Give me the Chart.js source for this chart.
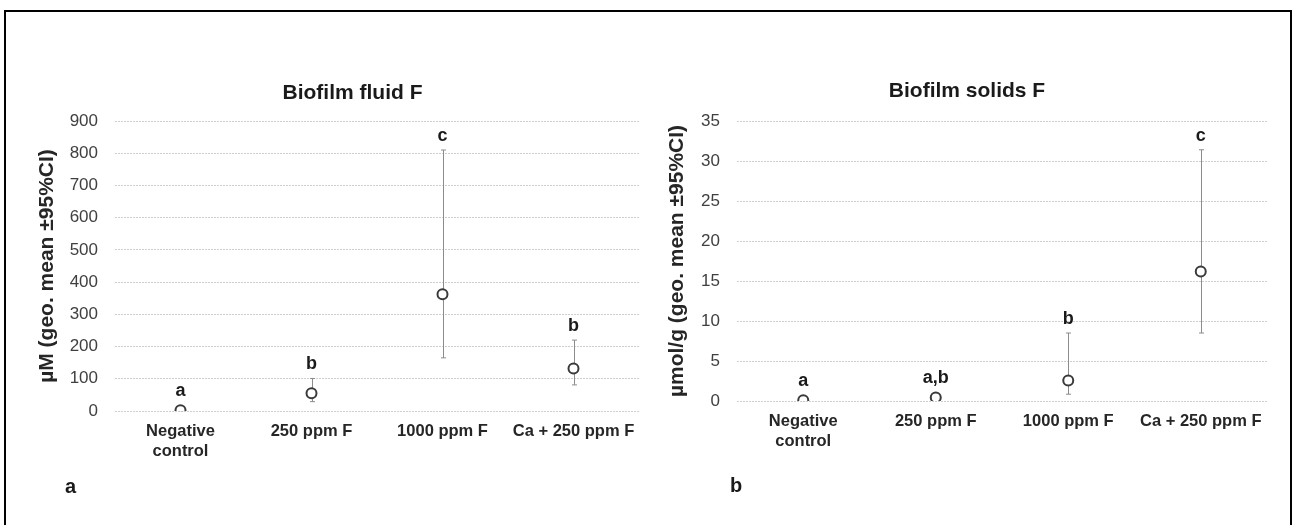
<!DOCTYPE html>
<html>
<head>
<meta charset="utf-8">
<script src="https://cdn.jsdelivr.net/npm/chart.js@4.4.0/dist/chart.umd.min.js"></script>
<style>
  body { margin: 0; background: #fff; width: 1296px; height: 525px; overflow: hidden; position: relative; font-family: "Liberation Sans", Arial, sans-serif; }
  #frame { position: absolute; left: 4px; top: 10px; width: 1288px; height: 530px; border: 2px solid #000; border-bottom: none; box-sizing: border-box; }
  .box { position: absolute; top: 0; height: 525px; }
  .panel { position: absolute; font-weight: bold; font-size: 20px; line-height: 20px; color: #1a1a1a; }
</style>
</head>
<body>
<div id="frame"></div>
<div class="box" style="left:20px;width:674px"><canvas id="fluid"></canvas></div>
<div class="box" style="left:660px;width:614px"><canvas id="solids"></canvas></div>
<div class="panel" style="left:65px;top:476px">a</div>
<div class="panel" style="left:730px;top:475px">b</div>
<script>
const categories = [['Negative', 'control'], '250 ppm F', '1000 ppm F', 'Ca + 250 ppm F']

const fluidMean = [2, 55, 362, 132]
const fluidLower = [1, 29, 165, 81]
const fluidUpper = [5, 101, 810, 220]
const fluidLetters = ['a', 'b', 'c', 'b']

const solidsMean = [0.1, 0.45, 2.55, 16.2]
const solidsLower = [0.05, 0.3, 0.85, 8.5]
const solidsUpper = [0.2, 0.7, 8.5, 31.4]
const solidsLetters = ['a', 'a,b', 'b', 'c']

const FONT = '"Liberation Sans", Arial, sans-serif'
const MARKER_R = 5

// whiskers for the CI, drawn under the markers; significance letters above
const ciBars = {
  id: 'ciBars',
  beforeDatasetsDraw(chart, _args, opts) {
    const { ctx, scales: { x, y } } = chart
    ctx.save()
    ctx.strokeStyle = '#8c8c8c'
    ctx.lineWidth = 1
    opts.lower.forEach((lo, i) => {
      const px = Math.round(x.getPixelForValue(i)) + 0.5
      const top = y.getPixelForValue(opts.upper[i])
      const bot = y.getPixelForValue(lo)
      ctx.beginPath()
      ctx.moveTo(px, top)
      ctx.lineTo(px, bot)
      ctx.moveTo(px - 2.5, top)
      ctx.lineTo(px + 2.5, top)
      ctx.moveTo(px - 2.5, bot)
      ctx.lineTo(px + 2.5, bot)
      ctx.stroke()
    })
    ctx.restore()
  },
  afterDatasetsDraw(chart, _args, opts) {
    const { ctx, scales: { x, y } } = chart
    ctx.save()
    ctx.fillStyle = '#1a1a1a'
    ctx.font = 'bold 18px ' + FONT
    ctx.textAlign = 'center'
    ctx.textBaseline = 'middle'
    opts.letters.forEach((t, i) => {
      const px = x.getPixelForValue(i)
      const top = Math.min(y.getPixelForValue(opts.upper[i]), y.getPixelForValue(opts.mean[i]) - MARKER_R)
      ctx.fillText(t, px, top - 14)
    })
    ctx.restore()
  },
}

function makeChart(id, cfg) {
  return new Chart(document.getElementById(id), {
    type: 'line',
    data: {
      labels: categories,
      datasets: [{
        data: cfg.mean,
        showLine: false,
        pointRadius: MARKER_R,
        pointHoverRadius: MARKER_R,
        pointBorderWidth: 2,
        pointBorderColor: '#3a3a3a',
        pointBackgroundColor: '#fff',
      }],
    },
    options: {
      responsive: true,
      maintainAspectRatio: false,
      animation: false,
      layout: { padding: { left: cfg.padLeft, right: cfg.padRight, top: 0, bottom: cfg.padBottom } },
      plugins: {
        legend: { display: false },
        tooltip: { enabled: false },
        title: {
          display: true,
          text: cfg.title,
          color: '#1a1a1a',
          font: { family: FONT, size: 21, weight: 'bold', lineHeight: 1.2 },
          padding: { top: cfg.titleTop, bottom: cfg.titleBottom },
        },
        ciBars: { lower: cfg.lower, upper: cfg.upper, mean: cfg.mean, letters: cfg.letters },
      },
      scales: {
        x: {
          type: 'category',
          offset: true,
          grid: { display: false, drawTicks: false },
          border: { display: false },
          ticks: {
            color: '#262626',
            padding: 11,
            maxRotation: 0,
            autoSkip: false,
            font: { family: FONT, size: 16.5, weight: 'bold', lineHeight: 1.18 },
          },
          afterFit(scale) { scale.height = 50 },
        },
        y: {
          min: 0,
          max: cfg.max,
          ticks: {
            stepSize: cfg.step,
            color: '#404040',
            padding: 17,
            font: { family: FONT, size: 17 },
          },
          grid: { color: '#cfcfcf', drawTicks: false, lineWidth: 1 },
          border: { display: false, dash: [2, 1] },
          title: {
            display: true,
            text: cfg.yTitle,
            color: '#262626',
            padding: { top: cfg.yTitlePad, bottom: 0 },
            font: { family: FONT, size: 21, weight: 'bold', lineHeight: 1.2 },
          },
          afterFit(scale) { scale.width = cfg.yWidth },
        },
      },
    },
    plugins: [ciBars],
  })
}

makeChart('fluid', {
  title: 'Biofilm fluid F',
  yTitle: 'µM (geo. mean ±95%CI)',
  mean: fluidMean, lower: fluidLower, upper: fluidUpper, letters: fluidLetters,
  max: 900, step: 100,
  yWidth: 49, yTitlePad: -31.6,
  padLeft: 46, padRight: 55, padBottom: 64,
  titleTop: 80.4, titleBottom: 15.4,
})

makeChart('solids', {
  title: 'Biofilm solids F',
  yTitle: 'µmol/g (geo. mean ±95%CI)',
  mean: solidsMean, lower: solidsLower, upper: solidsUpper, letters: solidsLetters,
  max: 35, step: 5,
  yWidth: 71, yTitlePad: -0.9,
  padLeft: 6, padRight: 6, padBottom: 74,
  titleTop: 79.1, titleBottom: 16.7,
})
</script>
</body>
</html>
